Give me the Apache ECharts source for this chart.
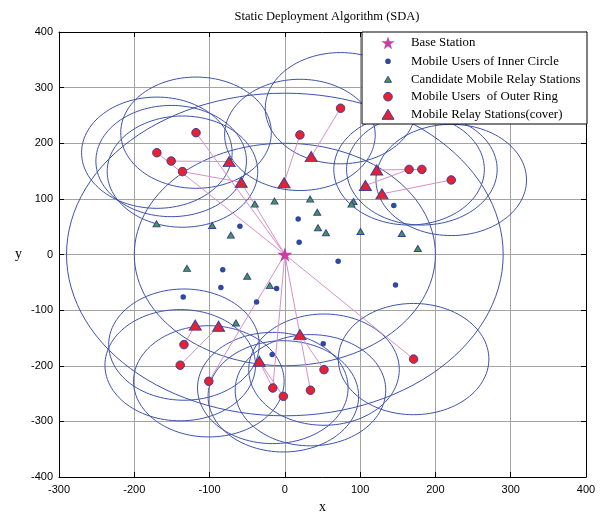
<!DOCTYPE html>
<html>
<head>
<meta charset="utf-8">
<script src="https://cdn.jsdelivr.net/npm/echarts@6/dist/echarts.min.js"></script>
<style>
  html, body { margin: 0; padding: 0; background: #ffffff; }
  #chart { width: 609px; height: 512px; }
</style>
</head>
<body>
<div id="chart"></div>
<script>
// ---- data ----
const chartTitle = 'Static Deployment Algorithm (SDA)';
const xAxisName = 'x';
const yAxisName = 'y';

const baseStation = [[0, 0]];

const innerUsers = [
  [17.7, 63.6], [19, 22], [-59.7, 51], [-82.5, -27.5], [-85, -59.5],
  [-135, -76.4], [-11, -61], [-37.6, -85.4], [144.7, 88.3], [70.8, -12],
  [147, -55], [51, -160.4], [-16.8, -179.6]
];

const candidateRelays = [
  [-170.4, 55], [-96.5, 52], [-71.7, 34.8], [-39.8, 90.6], [-13.7, 96],
  [-130, -25], [-50, -39], [-20, -56], [33.6, 99.6], [43, 76],
  [91.2, 95.4], [88.5, 90.6], [44, 48], [54.6, 39], [100.5, 41.4],
  [155.3, 37.8], [176.6, 10.8], [-65, -123]
];

const outerUsers = [
  [-118, 219], [-170, 183], [-151, 168], [-136, 149], [20, 215],
  [74, 263], [165, 153], [182, 153], [221, 134], [-134, -162],
  [-139, -199], [-101, -228], [-16, -240], [-2, -255], [34, -244],
  [52, -207], [171, -188]
];

const coverRelays = [
  [-74, 167], [-58, 130], [-1, 129], [35, 176], [122, 152],
  [107, 124], [129, 109], [-119, -127], [-88, -129], [-34, -192],
  [20, -144]
];

// connections: 'B' = base station, 'R#' = cover relay, 'U#' = outer-ring user
const links = [
  ['B', 'U0'], ['B', 'U1'], ['B', 'R1'], ['R1', 'U3'], ['R0', 'U2'],
  ['R2', 'U4'], ['R3', 'U5'], ['R4', 'U7'], ['R5', 'U6'], ['R6', 'U8'],
  ['R7', 'U9'], ['R8', 'U10'], ['B', 'U11'], ['R9', 'U12'], ['R9', 'U13'],
  ['B', 'U12'], ['B', 'R10'], ['R10', 'U14'], ['R10', 'U15'], ['B', 'U16']
];

const coverRadius = 100;          // coverage radius around each outer-ring user
const boundaryRadii = [200, 290]; // inner circle / outer ring boundaries around the base station

const legendLabels = [
  'Base Station',
  'Mobile Users of Inner Circle',
  'Candidate Mobile Relay Stations',
  'Mobile Users  of Outer Ring',
  'Mobile Relay Stations(cover)'
];

// ---- styles ----
const C = {
  circle: '#3d52ae',
  link: '#d98fca',
  star: '#c640a2',
  blue: '#2f48a3',
  green: '#3f9e45',
  red: '#e8202f',
  edge: '#3a3f9d',
  grid: '#a3a3a3'
};
const starPath = 'path://M50,0 L61.2,34.5 L97.6,34.5 L68.2,55.9 L79.4,90.5 L50,69.1 L20.6,90.5 L31.8,55.9 L2.4,34.5 L38.8,34.5 Z';

function point(ref) {
  if (ref === 'B') return baseStation[0];
  const idx = parseInt(ref.slice(1), 10);
  return ref[0] === 'R' ? coverRelays[idx] : outerUsers[idx];
}

const circleData = outerUsers.map(p => [p[0], p[1], coverRadius])
  .concat(boundaryRadii.map(r => [baseStation[0][0], baseStation[0][1], r]));

function renderCircle(params, api) {
  const cx = api.value(0), cy = api.value(1), r = api.value(2);
  const pts = [];
  const n = 120;
  for (let k = 0; k <= n; k++) {
    const t = (k / n) * Math.PI * 2;
    pts.push(api.coord([cx + r * Math.cos(t), cy + r * Math.sin(t)]));
  }
  return {
    type: 'polyline',
    shape: { points: pts },
    style: { stroke: C.circle, fill: null, lineWidth: 1 }
  };
}

const serifFont = '"Liberation Serif", "Times New Roman", serif';
const sansFont = '"Liberation Sans", Arial, sans-serif';

const axisCommon = {
  type: 'value',
  axisLine: { show: true, onZero: false, lineStyle: { color: '#000', width: 1 } },
  axisTick: { show: true, inside: true, length: 5, lineStyle: { color: '#000' } },
  splitLine: { show: false }
};

// ---- legend box drawn with graphic elements ----
const legendBox = { x: 362, y: 32, w: 225, h: 92 };
const legendRowY = [42.7, 61.3, 79.3, 96.7, 114.3];
const legendMarkX = 388;
const legendTextX = 411;

function triPoints(cx, cy, w, h) {
  return [[cx, cy - h / 2], [cx + w / 2, cy + h / 2], [cx - w / 2, cy + h / 2]];
}
function starPoints(cx, cy, R) {
  const pts = [];
  for (let k = 0; k < 10; k++) {
    const a = (-90 + k * 36) * Math.PI / 180;
    const rr = k % 2 === 0 ? R : R * 0.382;
    pts.push([cx + rr * Math.cos(a), cy + rr * Math.sin(a)]);
  }
  return pts;
}

const legendMarks = [
  { type: 'polygon', shape: { points: starPoints(legendMarkX, legendRowY[0] + 0.8, 7) },
    style: { fill: C.star } },
  { type: 'circle', shape: { cx: legendMarkX, cy: legendRowY[1], r: 2.8 }, style: { fill: C.blue } },
  { type: 'polygon', shape: { points: triPoints(legendMarkX, legendRowY[2], 7, 6) },
    style: { fill: C.green, stroke: C.edge, lineWidth: 1 } },
  { type: 'circle', shape: { cx: legendMarkX, cy: legendRowY[3], r: 4.3 },
    style: { fill: C.red, stroke: C.edge, lineWidth: 1 } },
  { type: 'polygon', shape: { points: triPoints(legendMarkX, legendRowY[4], 12, 10) },
    style: { fill: C.red, stroke: C.edge, lineWidth: 1 } }
];

const legendGraphics = [
  { type: 'rect', shape: { x: legendBox.x, y: legendBox.y, width: legendBox.w, height: legendBox.h },
    style: { fill: '#fff', stroke: '#000', lineWidth: 1 }, z: 100 }
].concat(legendMarks.map(m => Object.assign({ z: 101 }, m)))
 .concat(legendLabels.map((t, i) => ({
    type: 'text', z: 101,
    x: legendTextX, y: legendRowY[i],
    style: { text: t, fill: '#000', font: '12.8px ' + serifFont, textVerticalAlign: 'middle', textAlign: 'left' }
  })));

const chart = echarts.init(document.getElementById('chart'), null, { renderer: 'canvas' });

chart.setOption({
  backgroundColor: '#fff',
  animation: false,
  title: {
    text: chartTitle,
    left: 322, top: 5, textAlign: 'center',
    textStyle: { fontFamily: serifFont, fontSize: 12.5, fontWeight: 'normal', color: '#000' }
  },
  grid: { left: 59, right: 23, top: 32, bottom: 35, containLabel: false, outerBoundsMode: 'none' },
  xAxis: [
    Object.assign({}, axisCommon, {
      position: 'bottom', min: -300, max: 400, interval: 100,
      name: xAxisName, nameLocation: 'middle', nameGap: 19,
      nameTextStyle: { fontFamily: serifFont, fontSize: 14, color: '#000' },
      axisLabel: { color: '#000', fontFamily: sansFont, fontSize: 11, margin: 7 },
      splitLine: { show: true, lineStyle: { color: C.grid, width: 1 } }
    }),
    Object.assign({}, axisCommon, {
      position: 'top', min: -300, max: 400, interval: 100,
      axisLabel: { show: false }
    })
  ],
  yAxis: [
    Object.assign({}, axisCommon, {
      position: 'left', min: -400, max: 400, interval: 100,
      name: yAxisName, nameLocation: 'middle', nameGap: 37, nameRotate: 0,
      nameTextStyle: { fontFamily: serifFont, fontSize: 14, color: '#000' },
      axisLabel: { color: '#000', fontFamily: sansFont, fontSize: 11, margin: 6 },
      splitLine: { show: true, lineStyle: { color: C.grid, width: 1 } }
    }),
    Object.assign({}, axisCommon, {
      position: 'right', min: -400, max: 400, interval: 100,
      axisLabel: { show: false }
    })
  ],
  graphic: legendGraphics,
  series: [
    {
      name: 'coverage',
      type: 'custom',
      renderItem: renderCircle,
      data: circleData,
      encode: { x: 0, y: 1 },
      clip: true,
      silent: true,
      z: 2
    },
    {
      name: 'links',
      type: 'lines',
      coordinateSystem: 'cartesian2d',
      data: links.map(([a, b]) => ({ coords: [point(a), point(b)] })),
      lineStyle: { color: C.link, width: 1, opacity: 1 },
      silent: true,
      z: 3
    },
    {
      name: legendLabels[1],
      type: 'scatter',
      data: innerUsers,
      symbol: 'circle',
      symbolSize: 5.5,
      itemStyle: { color: C.blue, opacity: 1 },
      z: 4
    },
    {
      name: legendLabels[2],
      type: 'scatter',
      data: candidateRelays,
      symbol: 'triangle',
      symbolSize: [7, 6],
      itemStyle: { color: C.green, borderColor: C.edge, borderWidth: 1, opacity: 1 },
      z: 4
    },
    {
      name: legendLabels[3],
      type: 'scatter',
      data: outerUsers,
      symbol: 'circle',
      symbolSize: 8.5,
      itemStyle: { color: C.red, borderColor: C.edge, borderWidth: 1, opacity: 1 },
      z: 5
    },
    {
      name: legendLabels[4],
      type: 'scatter',
      data: coverRelays,
      symbol: 'triangle',
      symbolSize: [12, 10],
      itemStyle: { color: C.red, borderColor: C.edge, borderWidth: 1, opacity: 1 },
      z: 5
    },
    {
      name: legendLabels[0],
      type: 'scatter',
      data: baseStation,
      symbol: starPath,
      symbolKeepAspect: true,
      symbolSize: 15,
      itemStyle: { color: C.star, opacity: 1 },
      z: 6
    }
  ]
});
</script>
</body>
</html>
